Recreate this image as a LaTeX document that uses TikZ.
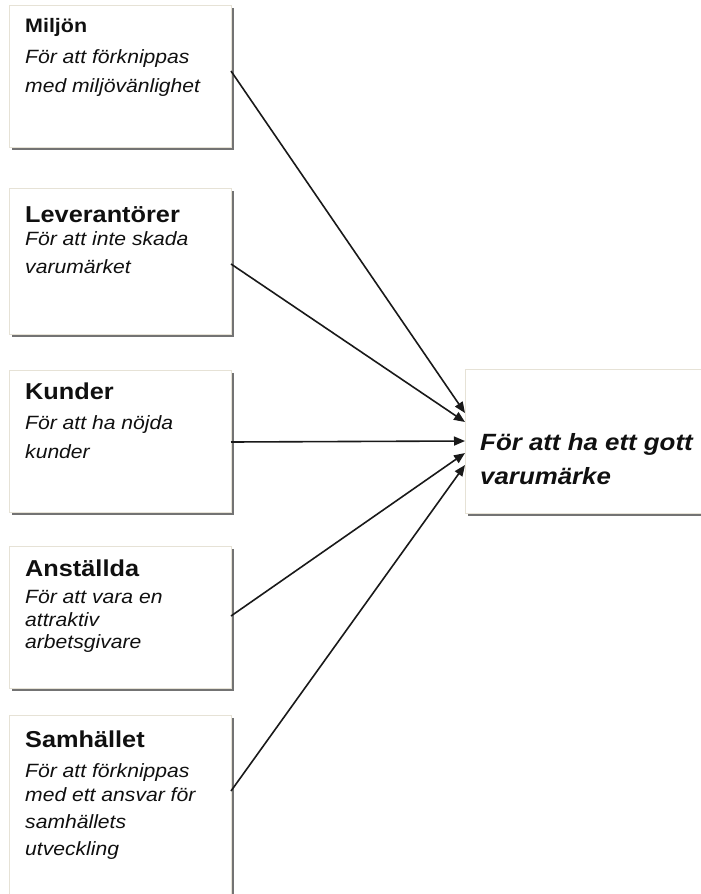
\documentclass[tikz,border=0pt]{standalone}
\usepackage{fontspec}
\setmainfont{Liberation Sans}[FakeStretch=1.1]
\usetikzlibrary{arrows.meta,shadows}
\definecolor{boxedge}{HTML}{E6E2D6}
\definecolor{txt}{HTML}{101010}
\tikzset{
  box/.style={draw=boxedge, line width=0.8pt, fill=white, rectangle, inner sep=0pt, outer sep=0pt,
    anchor=north west, drop shadow={shadow xshift=2.5pt, shadow yshift=-2.5pt, fill=black!55, opacity=1}},
  ttl/.style={anchor=base west, inner sep=0pt, text=txt, font=\bfseries\fontsize{23}{27}\selectfont},
  ttlsmall/.style={anchor=base west, inner sep=0pt, text=txt, font=\bfseries\fontsize{19.5}{23}\selectfont},
  desc/.style={anchor=base west, inner sep=0pt, text=txt, font=\itshape\fontsize{19.2}{23}\selectfont},
  goal/.style={anchor=base west, inner sep=0pt, text=txt, font=\bfseries\itshape\fontsize{23.5}{28}\selectfont},
  arr/.style={draw=black!90, line width=1.6pt, -{Triangle[length=11pt,width=9pt]}}
}
\begin{document}
\begin{tikzpicture}[x=1pt,y=-1pt]
\useasboundingbox (0,0) rectangle (701,894);
% boxes
\node[box, minimum width=222pt, minimum height=142pt] (b1) at (9,5) {};
\node[box, minimum width=222pt, minimum height=146pt] (b2) at (9,188) {};
\node[box, minimum width=222pt, minimum height=142pt] (b3) at (9,370) {};
\node[box, minimum width=222pt, minimum height=142pt] (b4) at (9,546) {};
\node[box, minimum width=222pt, minimum height=190pt] (b5) at (9,715) {};
\node[box, minimum width=250pt, minimum height=144pt] (g) at (465,369) {};
% texts
\node[ttlsmall] (t1) at (25,32) {Miljön};
\node[desc] (d1a) at (25,63) {För att förknippas};
\node[desc] (d1b) at (25,92) {med miljövänlighet};

\node[ttl] (t2) at (25,222) {Leverantörer};
\node[desc] (d2a) at (25,245) {För att inte skada};
\node[desc] (d2b) at (25,273) {varumärket};

\node[ttl] (t3) at (25,399) {Kunder};
\node[desc] (d3a) at (25,429) {För att ha nöjda};
\node[desc] (d3b) at (25,458) {kunder};

\node[ttl] (t4) at (25,576) {Anställda};
\node[desc] (d4a) at (25,603) {För att vara en};
\node[desc] (d4b) at (25,626) {attraktiv};
\node[desc] (d4c) at (25,648) {arbetsgivare};

\node[ttl] (t5) at (25,747) {Samhället};
\node[desc] (d5a) at (25,777) {För att förknippas};
\node[desc] (d5b) at (25,801) {med ett ansvar för};
\node[desc] (d5c) at (25,828) {samhällets};
\node[desc] (d5d) at (25,855) {utveckling};

\node[goal] (g1) at (480,450) {För att ha ett gott};
\node[goal] (g2) at (480,484) {varumärke};
% arrows
\draw[arr] (b1.east |- 0,71) -- (g.west |- 0,413);
\draw[arr] (b2.east |- 0,264) -- (g.west |- 0,422);
\draw[arr] (b3.east |- 0,442) -- (g.west |- 0,441);
\draw[arr] (b4.east |- 0,616) -- (g.west |- 0,453);
\draw[arr] (b5.east |- 0,791) -- (g.west |- 0,465);
\end{tikzpicture}
\end{document}
